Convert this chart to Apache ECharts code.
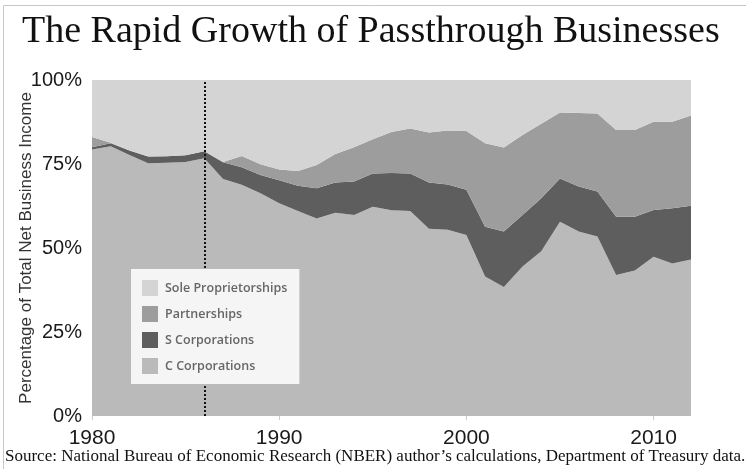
<!DOCTYPE html>
<html>
<head>
<meta charset="utf-8">
<script src="https://cdn.jsdelivr.net/npm/echarts@6/dist/echarts.min.js"></script>
<style>
  html, body { margin: 0; padding: 0; background: #fff; }
  #chart-container { width: 746px; height: 469px; }
</style>
</head>
<body>
<div id="chart-container"></div>
<script>
// 年份
var years = ['1980', '1981', '1982', '1983', '1984', '1985', '1986', '1987', '1988', '1989',
             '1990', '1991', '1992', '1993', '1994', '1995', '1996', '1997', '1998', '1999',
             '2000', '2001', '2002', '2003', '2004', '2005', '2006', '2007', '2008', '2009',
             '2010', '2011', '2012'];

// 各類企業所佔比例 (%)
var cCorp = [79.3, 80.3, 77.7, 75.2, 75.4, 75.6, 76.7, 70.5, 68.8, 66.3,
             63.3, 61.0, 58.8, 60.5, 59.8, 62.3, 61.2, 61.0, 55.7, 55.4,
             53.9, 41.5, 38.4, 44.5, 49.0, 57.8, 54.9, 53.4, 42.0, 43.3,
             47.4, 45.4, 46.6];
var sCorp = [0.7, 0.9, 1.3, 2.0, 1.9, 2.0, 2.1, 5.0, 5.2, 5.4,
             6.9, 7.5, 9.0, 9.0, 10.0, 9.9, 11.1, 11.2, 13.8, 13.5,
             13.4, 14.8, 16.5, 15.3, 15.8, 12.9, 13.4, 13.4, 17.3, 16.0,
             13.9, 16.4, 16.0];
var partnerships = [3.0, 0.1, 0, 0, 0, 0, 0, 0.1, 3.4, 3.2,
                    3.2, 4.4, 6.9, 8.5, 10.2, 10.2, 12.2, 13.4, 14.9, 16.1,
                    17.5, 24.9, 25.0, 23.8, 22.2, 19.6, 21.9, 23.2, 25.8, 25.8,
                    26.3, 25.8, 26.8];
var soleProp = [17.0, 18.7, 21.0, 22.8, 22.7, 22.4, 21.2, 24.4, 22.6, 25.1,
                26.6, 27.1, 25.3, 22.0, 20.0, 17.6, 15.5, 14.4, 15.6, 15.0,
                15.2, 18.8, 20.1, 16.4, 13.0, 9.7, 9.8, 10.0, 14.9, 14.9,
                12.4, 12.4, 10.6];

var yTicks = ['0%', '25%', '50%', '75%', '100%'];

var chart = echarts.init(document.getElementById('chart-container'));

function areaSeries(name, data, color) {
    return {
        name: name,
        type: 'line',
        stack: 'total',
        data: data,
        symbol: 'none',
        showSymbol: false,
        lineStyle: { width: 0 },
        areaStyle: { color: color, opacity: 1 },
        itemStyle: { color: color },
        silent: true
    };
}

// 每十年顯示一次刻度
function decade(index, value) {
    return Number(value) % 10 === 0;
}

var seriesC = areaSeries('C Corporations', cCorp, '#bababa');
seriesC.markLine = {
    silent: true,
    symbol: 'none',
    label: { show: false },
    lineStyle: { type: [2, 2], color: '#111', width: 2 },
    data: [{ xAxis: '1986' }]
};

var option = {
    backgroundColor: '#fff',
    animation: false,
    grid: { left: 92, right: 55, top: 80, bottom: 53 },
    title: {
        text: 'The Rapid Growth of Passthrough Businesses',
        left: 17,
        top: 8,
        textStyle: { fontFamily: 'Liberation Serif', fontSize: 38, fontWeight: 'normal', color: '#111' }
    },
    legend: {
        orient: 'vertical',
        left: 131,
        top: 269,
        z: 50,
        padding: [11, 12, 10, 11],
        backgroundColor: '#f5f5f5',
        itemWidth: 16,
        itemHeight: 16,
        itemGap: 10,
        icon: 'rect',
        selectedMode: false,
        textStyle: { fontFamily: 'Open Sans', fontSize: 12.5, fontWeight: 600, color: '#666', padding: [0, 0, 0, 2] },
        data: ['Sole Proprietorships', 'Partnerships', 'S Corporations', 'C Corporations']
    },
    xAxis: {
        type: 'category',
        boundaryGap: false,
        data: years,
        axisLine: { show: false },
        axisTick: { show: true, length: 4, interval: decade, lineStyle: { color: '#cccccc' } },
        splitLine: { show: false },
        axisLabel: {
            margin: 12,
            interval: decade,
            fontFamily: 'Liberation Sans',
            fontSize: 21,
            color: '#1a1a1a'
        }
    },
    yAxis: {
        type: 'value',
        min: 0,
        max: 100,
        interval: 25,
        name: 'Percentage of Total Net Business Income',
        nameLocation: 'middle',
        nameGap: 57,
        nameMoveOverlap: false,
        nameTextStyle: { fontFamily: 'Liberation Sans', fontSize: 17, color: '#333' },
        axisLine: { show: false },
        axisTick: { show: false },
        splitLine: { show: false },
        axisLabel: {
            margin: 10,
            fontFamily: 'Liberation Sans',
            fontSize: 20,
            color: '#1a1a1a',
            formatter: function(v) { return yTicks[v / 25]; }
        }
    },
    graphic: [
        {
            type: 'rect',
            silent: true,
            z: -10,
            shape: { x: 3.5, y: 5.5, width: 760, height: 480 },
            style: { fill: 'none', stroke: '#c8c8c8', lineWidth: 1 }
        },
        {
            type: 'text',
            left: 212,
            top: 85,
            silent: true,
            style: { text: '1986 Tax Reform Act', font: '16.5px "Liberation Sans"', fill: '#222' }
        },
        {
            type: 'text',
            left: 5,
            top: 448,
            silent: true,
            style: {
                text: 'Source: National Bureau of Economic Research (NBER) author\u2019s calculations, Department of Treasury data.',
                font: '17px "Liberation Serif"',
                fill: '#111'
            }
        }
    ],
    series: [
        seriesC,
        areaSeries('S Corporations', sCorp, '#5e5e5e'),
        areaSeries('Partnerships', partnerships, '#9d9d9d'),
        areaSeries('Sole Proprietorships', soleProp, '#d4d4d4')
    ]
};

chart.setOption(option);

window.addEventListener('resize', function() {
    chart.resize();
});
</script>
</body>
</html>
